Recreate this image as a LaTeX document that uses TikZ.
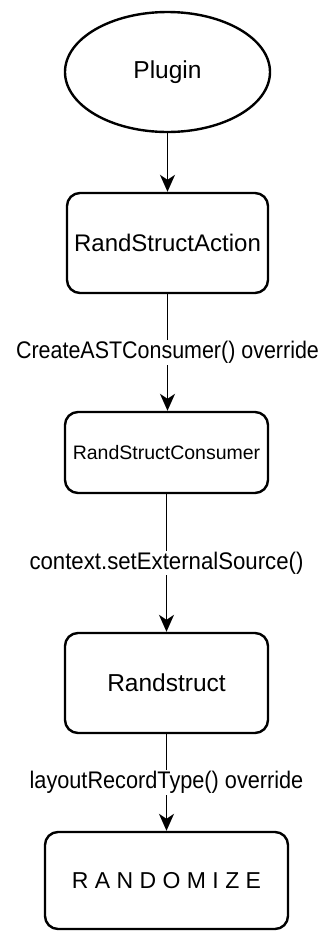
\documentclass[tikz,border=0pt]{standalone}
\usepackage{fontspec}
\setmainfont{Liberation Sans}
\usetikzlibrary{arrows.meta,shapes.geometric}
\tikzset{
  flowbox/.style={draw=black, line width=2.4pt, rounded corners=13pt, fill=white,
    inner sep=0pt, align=center},
  startnode/.style={draw=black, line width=2.4pt, ellipse, fill=white, inner sep=0pt,
    minimum width=205pt, minimum height=120pt},
  flowarrow/.style={draw=black, line width=1.6pt,
    -{Stealth[length=17pt, width=15pt, inset=5pt]}},
  edgelabel/.style={fill=white, inner sep=1pt, font=\fontsize{24}{28}\selectfont}
}
\begin{document}
\begin{tikzpicture}[x=1pt, y=-1pt]
\useasboundingbox (0,0) rectangle (320,932);
\node[startnode, font=\fontsize{24.5}{28}\selectfont] (plugin) at (167.5,72) {Plugin};
\node[flowbox, minimum width=201pt, minimum height=100pt,
  font=\fontsize{24}{28}\selectfont] (action) at (167.5,243) {RandStructAction};
\node[flowbox, minimum width=203pt, minimum height=81pt,
  font=\fontsize{19.5}{23}\selectfont] (consumer) at (166.5,452.5) {RandStructConsumer};
\node[flowbox, minimum width=203pt, minimum height=100pt,
  font=\fontsize{24.5}{28}\selectfont] (randstruct) at (166.5,683) {Randstruct};
\node[flowbox, minimum width=243pt, minimum height=97pt,
  font=\fontsize{23}{28}\selectfont] (randomize) at (166.5,880.5) {R A N D O M I Z E};
\draw[flowarrow] (plugin.south) -- (plugin.south |- action.north);
\draw[flowarrow] (action.south) -- node[edgelabel] {\scalebox{0.894}[1]{CreateASTConsumer() override}} (action.south |- consumer.north);
\draw[flowarrow] (consumer.south) -- node[edgelabel] {\scalebox{0.925}[1]{context.setExternalSource()}} (consumer.south |- randstruct.north);
\draw[flowarrow] (randstruct.south) -- node[edgelabel] {\scalebox{0.904}[1]{layoutRecordType() override}} (randstruct.south |- randomize.north);
\end{tikzpicture}
\end{document}
